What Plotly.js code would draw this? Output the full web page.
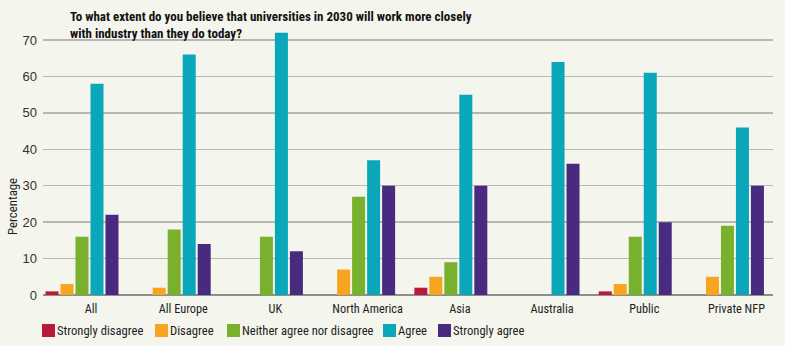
<!DOCTYPE html>
<html><head><meta charset="utf-8">
<script src="https://cdn.plot.ly/plotly-3.0.1.min.js"></script>
<style>html,body{margin:0;padding:0;background:#f4f5ed;}#chart{width:785px;height:346px;}</style>
</head><body><div id="chart"></div>
<script>
const categories = ["All","All Europe","UK","North America","Asia","Australia","Public","Private NFP"];
const seriesNames = ["Strongly disagree","Disagree","Neither agree nor disagree","Agree","Strongly agree"];
const stronglyDisagree = [1,0,0,0,2,0,1,0];
const disagree = [3,2,0,7,5,0,3,5];
const neither = [16,18,16,27,9,0,16,19];
const agree = [58,66,72,37,55,64,61,46];
const stronglyAgree = [22,14,12,30,30,36,20,30];
const yTickVals = [0,10,20,30,40,50,60,70];
const titleText = "To what extent do you believe that universities in 2030 will work more closely<br>with industry than they do today?";
const yTitle = "Percentage";

const seriesValues = [stronglyDisagree, disagree, neither, agree, stronglyAgree];
const seriesColors = ["#b81a3a","#f7a520","#79b02d","#0aa6ba","#482a7e"];

const NARROW = "'Roboto Condensed', 'DejaVu Sans Condensed', 'Liberation Sans', sans-serif";
const REG = "'Liberation Sans', Arial, sans-serif";

const ML = 43, MR = 12, MT = 28, MB = 51, W = 785, H = 346;
const PW = W - ML - MR, PH = H - MT - MB;
const xp = p => (p - ML) / PW;
const yp = p => (H - MB - p) / PH;

const traces = seriesValues.map((vals, i) => ({
  type: 'bar', name: seriesNames[i], x: categories, y: vals,
  marker: {color: seriesColors[i], line: {width: 0}},
  showlegend: false, hoverinfo: 'x+y+name'
}));

// custom legend (swatch + label) positioned like the reference
const legendSquareX = [42, 155, 227, 383, 438];
const shapes = [], annotations = [];
seriesNames.forEach((n, i) => {
  const x0 = legendSquareX[i];
  shapes.push({type:'rect', xref:'paper', yref:'paper', x0: xp(x0), x1: xp(x0 + 13), y0: yp(337), y1: yp(324),
    fillcolor: seriesColors[i], line:{width:0}});
  annotations.push({xref:'paper', yref:'paper', x: xp(x0 + 13), y: yp(330.5), xanchor:'left', yanchor:'middle',
    text: n, showarrow:false, font:{family: NARROW, size: 12.6, color:'#1e1e1e'}});
});
annotations.push({xref:'paper', yref:'paper', x: xp(12), y: yp(207), xanchor:'center', yanchor:'middle',
  text: yTitle, textangle: -90, showarrow:false, font:{family: NARROW, size: 12.8, color:'#1e1e1e'}});

const layout = {
  width: W, height: H,
  margin: {l: ML, r: MR, t: MT, b: MB, pad: 0},
  paper_bgcolor: '#f4f5ed', plot_bgcolor: '#f4f5ed',
  barmode: 'group', bargap: 0.187, bargroupgap: 0.133,
  title: {text: titleText, x: 70 / W, xref: 'container', xanchor: 'left', y: 1 - 21 / H, yref: 'container', yanchor: 'top',
    font: {family: NARROW, size: 13, color: '#111', weight: 'bold'}},
  xaxis: {type: 'category', range: [-0.423, 7.494], showgrid: false, showline: false, ticks: '', zeroline: false,
    tickfont: {family: NARROW, size: 12.3, color: '#1e1e1e'}, ticklabelshift: 9, ticklabelstandoff: 5, fixedrange: true},
  yaxis: {range: [0, 73.3], tickvals: yTickVals, ticktext: yTickVals.map(String), showgrid: true, gridcolor: '#b7b8b0', gridwidth: 1.5,
    zeroline: true, zerolinecolor: '#8e8f8a', zerolinewidth: 1.5, showline: false, ticks: '',
    tickfont: {family: REG, size: 13, color: '#333'}, ticklabelstandoff: 5, fixedrange: true},
  shapes, annotations,
  showlegend: false
};
Plotly.newPlot('chart', traces, layout, {displayModeBar: false, staticPlot: true});
</script></body></html>
